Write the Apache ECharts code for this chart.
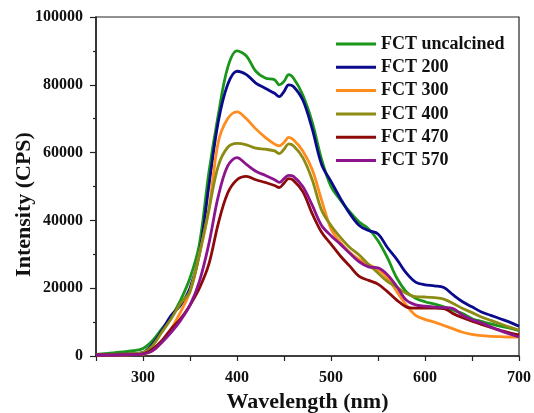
<!DOCTYPE html>
<html lang="en">
<head>
    <meta charset="UTF-8">
    <title>FCT PL spectra</title>
	<script src="https://cdn.jsdelivr.net/npm/echarts@6/dist/echarts.min.js"></script>
	<style>
	body{margin:0;background:#fff}
	#main{width:534px;height:413px}
	</style>
</head>
<body>
<div id="main"></div>
<script type="text/javascript">
// wavelength (nm)
var wavelength = [250,270,290,300,310,320,330,340,350,360,370,380,390,400,410,420,430,440,445,450,455,460,
    470,480,490,500,510,520,530,540,550,560,570,580,590,600,610,620,630,640,650,660,670,680,690,700];

// intensity in thousands of CPS
var fctUncalcined = [0.5,1.0,1.6,2.2,4.5,8,11.5,16.5,23,33,54,71,85,90,88.5,84,82,81.5,80,81,83,82,
    77,69,58,50,46,42.5,39.5,37.5,34,29,23,19,17,16,15.3,14.5,13.5,12.5,11,10.2,9.5,8.8,8.2,7.5];
var fct200 = [0.3,0.5,0.7,1.0,3.5,7.5,12,15,20,30,50,69,80,84,83,80.5,79,77.5,76.5,78,80,79.5,
    75.5,67,56.5,51.5,46.5,42,38.5,37,36,32,28.5,24.5,21.8,21,20.7,20.2,18,16,14.5,13,12,11,10,8.8];
var fct300 = [0.3,0.3,0.4,0.5,1.5,4,8,13,19,30,43,63,70,72,70,67,64.5,62.5,62,63,64.5,63.8,
    60.5,55,46,37.5,33.5,30.5,28.5,27,25.5,23,19,15,12,10.8,10,9,8,7,6.4,6,5.8,5.7,5.6,5.6];
var fct400 = [0.3,0.5,0.7,1.0,3,7,11,15.5,19,30,43,56,61.5,62.7,62.3,61.3,61,60.5,59.7,61,62.6,62,
    58.5,52,43,38.5,35,32,29.8,27,24.5,22,20.3,18.5,17.5,17.4,17.2,16.8,15.5,14,12.8,11.5,10.5,9.5,8.5,7.6];
var fct470 = [0.3,0.3,0.4,0.6,2,4.5,8,11,15,20,27,39,48,52,53,52,51.2,50.3,49.7,51,52.3,51.8,
    48.5,42,36.5,33,29.5,26.5,23.5,22.3,21.2,19,16.5,14.5,14.1,14.1,14.1,14,12.5,11.3,10.3,9.3,8.4,7.6,6.8,6.2];
var fct570 = [0.3,0.3,0.4,0.6,1.5,4,7,10.5,15,22,33,47,56,58.5,56.5,54.5,53.3,52,51.2,52.3,53.3,53,
    50,44.5,38.5,35.5,33,30.3,27.8,26.3,26,24,20.5,16.5,15.1,14.7,14.4,14.3,14,12,10.7,9.8,8.6,7.5,6.5,5.6];

var names = ['FCT uncalcined','FCT 200','FCT 300','FCT 400','FCT 470','FCT 570'];
var colors = ['#1a961a','#0a0a8c','#ff8c1e','#8c8c14','#8c0a0a','#8c148c'];
var values = [fctUncalcined, fct200, fct300, fct400, fct470, fct570];

function pairs(ys) {
    var out = [];
    for (var i = 0; i < wavelength.length; i++) {
        out.push([wavelength[i], ys[i] * 1000]);
    }
    return out;
}

var series = [];
for (var k = 0; k < names.length; k++) {
    series.push({
        name: names[k],
        type: 'line',
        data: pairs(values[k]),
        smooth: 0.35,
        showSymbol: false,
        lineStyle: {color: colors[k], width: 2.8},
        itemStyle: {color: colors[k]}
    });
}

var font = '"Liberation Serif", "Times New Roman", serif';
var myChart = echarts.init(document.getElementById('main'));
myChart.setOption({
    backgroundColor: '#fff',
    animation: false,
    grid: {
        left: 96, right: 15, top: 17, bottom: 57,
        outerBoundsMode: 'none',
        containLabel: false,
        show: true, borderColor: '#222', borderWidth: 1.2
    },
    legend: {
        orient: 'vertical',
        left: 331,
        top: 30,
        icon: 'rect',
        itemWidth: 40,
        itemHeight: 3,
        itemGap: 5.3,
        data: names,
        textStyle: {fontFamily: font, fontWeight: 'bold', fontSize: 18, color: '#111', lineHeight: 18}
    },
    xAxis: {
        type: 'value',
        min: 250,
        max: 700,
        interval: 50,
        name: 'Wavelength (nm)',
        nameLocation: 'middle',
        nameGap: 35,
        nameMoveOverlap: false,
        nameTextStyle: {fontFamily: font, fontWeight: 'bold', fontSize: 22, color: '#111'},
        axisLine: {show: true, lineStyle: {color: '#222', width: 1.5}},
        axisTick: {show: true, inside: false, length: 5, lineStyle: {color: '#222', width: 1.2}},
        splitLine: {show: false},
        axisLabel: {
            fontFamily: font, fontWeight: 'bold', fontSize: 16, color: '#111', margin: 14,
            formatter: function (v) { return (v % 100 === 0) ? String(v) : ''; }
        }
    },
    yAxis: {
        type: 'value',
        min: 0,
        max: 100000,
        interval: 20000,
        name: 'Intensity (CPS)',
        nameLocation: 'middle',
        nameGap: 61,
        nameMoveOverlap: false,
        nameTextStyle: {fontFamily: font, fontWeight: 'bold', fontSize: 22, color: '#111', padding: [0, 36, 0, 0]},
        axisLine: {show: true, lineStyle: {color: '#222', width: 1.5}},
        axisTick: {show: true, inside: false, length: 6, lineStyle: {color: '#222', width: 1.2}},
        minorTick: {show: true, splitNumber: 2, length: 3, lineStyle: {color: '#222', width: 1.2}},
        splitLine: {show: false},
        axisLabel: {
            fontFamily: font, fontWeight: 'bold', fontSize: 16, color: '#111', margin: 13,
            formatter: function (v) { return String(v); }
        }
    },
    series: series
});
</script>
</body>
</html>
